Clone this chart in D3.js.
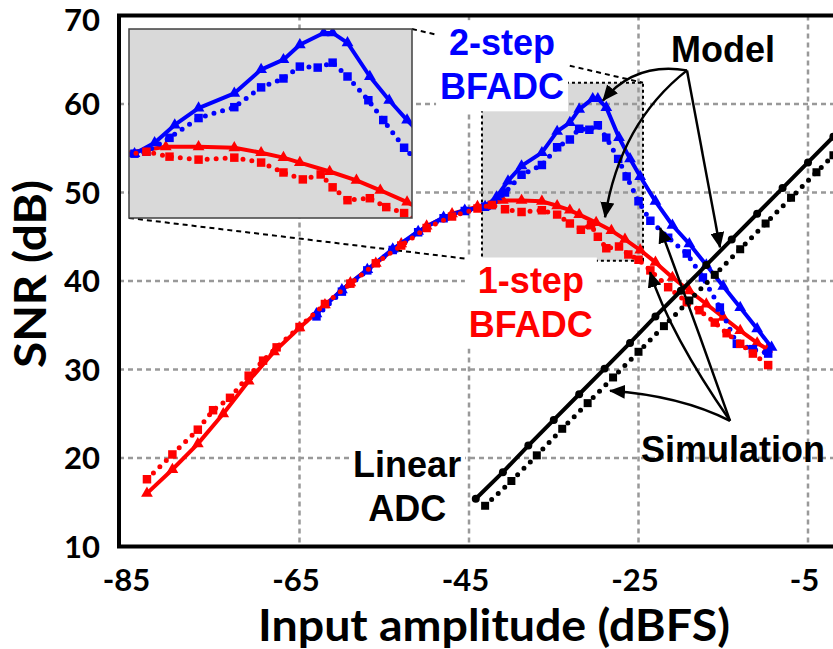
<!DOCTYPE html>
<html>
<head>
<meta charset="utf-8">
<script src="https://cdn.jsdelivr.net/npm/d3@7"></script>
<style>
  body { margin: 0; background: #fff; }
  svg { display: block; }
</style>
</head>
<body>
<div id="chart"></div>
<script>
// tick values
var xTicks = [-85, -65, -45, -25, -5];
var yTicks = [10, 20, 30, 40, 50, 60, 70];

// 1-step BFADC (model = solid, simulation = dotted)
var redModel = [[-83,16.0],[-80,18.7],[-77,21.6],[-74,25.0],[-71,28.7],[-68,32.0],[-65,34.7],[-62,37.3],[-59,39.8],[-56,42.0],[-53,44.2],[-50,46.2],[-47,47.6],[-44,48.4],[-41,49.1],[-38.8,49.1],[-36.4,49.0],[-34.6,48.5],[-33.1,48.0],[-32,47.5],[-30,46.6],[-28.2,45.7],[-26.6,44.7],[-24.8,43.5],[-23,42.1],[-21,40.4],[-19,38.9],[-17,37.4],[-15,35.9],[-13,34.4],[-11,33.0],[-9.8,32.3]];
var redSim = [[-83,17.6],[-80,20.4],[-77,23.2],[-75.2,25.4],[-73.2,26.8],[-71,29.3],[-69.3,31.0],[-67.7,32.5],[-65,34.8],[-62,37.4],[-59,39.7],[-56,42.0],[-53,44.0],[-50,46.0],[-47,47.3],[-44,48.2],[-42.3,48.6],[-40.75,48.1],[-38.8,47.8],[-36.4,48.0],[-34.6,47.5],[-33.1,46.5],[-31.8,45.8],[-30.6,46.3],[-29.8,45.0],[-28.8,43.7],[-27.3,43.9],[-26.2,43.0],[-25,42.4],[-23.6,41.2],[-21.5,39.3],[-19.3,37.6],[-17.8,36.7],[-16,35.3],[-14.6,34.1],[-13,32.9],[-11.5,31.8],[-9.7,30.5]];

// 2-step BFADC
var blueModel = [[-63,36.3],[-60,39.0],[-57,41.3],[-54,43.6],[-51,45.6],[-48,47.2],[-45.5,48.0],[-43.1,48.4],[-41.75,49.5],[-40.4,51.3],[-38.8,53.0],[-36.4,54.5],[-34.6,56.9],[-33.1,57.9],[-32,59.4],[-30.4,60.6],[-29.8,60.6],[-28.8,59.6],[-27.3,56.2],[-26,53.8],[-24.8,51.8],[-23,49.0],[-21,46.3],[-19,44.2],[-17,41.8],[-15,39.4],[-13,37.0],[-11,34.6],[-9.3,32.5]];
var blueSim = [[-63,36.0],[-60,38.8],[-57,41.2],[-54,43.5],[-51,45.5],[-48,47.1],[-45.5,47.9],[-43.1,48.4],[-42.3,48.6],[-40.75,50.0],[-38.8,52.0],[-36.4,53.1],[-34.6,55.1],[-33.1,56.0],[-32,57.2],[-30.8,57.1],[-29.8,57.6],[-28.8,56.2],[-27.4,53.8],[-26.4,51.8],[-25,49.0],[-23.6,46.8],[-21.5,44.9],[-19.3,43.1],[-17.4,40.4],[-15.4,37.0],[-13.4,32.9],[-11.5,32.3],[-9.7,31.8]];

// linear ADC
var linModel = [[-44.2,15.4],[-41,18.4],[-38,21.4],[-35,24.3],[-32,27.2],[-29,30.1],[-26,33.0],[-23,36.0],[-20,38.9],[-17,41.8],[-14,44.7],[-11,47.6],[-8,50.5],[-5,53.4],[-2,56.3]];
var linSim = [[-43.1,14.6],[-40,17.4],[-37,20.3],[-34,23.3],[-31,26.2],[-28,29.1],[-25,32.0],[-22,34.9],[-19,37.8],[-16,40.7],[-13,43.6],[-10,46.5],[-7,49.4],[-4,52.3],[-2,54.2]];

// window that the inset magnifies
var zoomX = [-43.47, -24.47];
var zoomY = [42.3, 62.4];
var insetY = [41.9, 61.0];

// annotations, anchored in data units
var labels = [
  {lines: ["2-step", "BFADC"], at: [-41.1, 65.5], color: "#0000ff", box: true},
  {lines: ["1-step", "BFADC"], at: [-37.7, 38.7], color: "#ff0000", box: true},
  {lines: ["Linear", "ADC"], at: [-52.3, 17.8], color: "#000", box: true},
  {lines: ["Model"], at: [-15.03, 64.7], color: "#000", box: false},
  {lines: ["Simulation"], at: [-13.85, 19.5], color: "#000", box: false}
];
var arrows = [
  {from: [-19.28, 63.8], ctrl: [-25.4, 64.8], to: [-29.19, 60.4]},
  {from: [-19.28, 63.8], ctrl: [-27.2, 57.85], to: [-28.95, 47.2]},
  {from: [-19.28, 63.8], ctrl: [-17.33, 53.8], to: [-15.38, 43.8]},
  {from: [-14.2, 24.2], ctrl: [-18.3, 35.3], to: [-22.46, 46.0]},
  {from: [-14.2, 24.2], ctrl: [-21.3, 34.0], to: [-23.64, 41.0]},
  {from: [-14.2, 24.2], ctrl: [-20.1, 27.06], to: [-28.36, 27.6]}
];

var width = 833, height = 649;
var tickFont = "Lato, 'Open Sans', sans-serif";
var noteFont = "'Liberation Sans', Arial, sans-serif";

var svg = d3.select("#chart").append("svg")
  .attr("width", width)
  .attr("height", height);

var x = d3.scaleLinear().domain([-86.3, -5]).range([119, 808]);
var y = d3.scaleLinear().domain([10, 70]).range([546.5, 15.5]);
var plotLeft = x.range()[0], plotRight = x(-1);

var defs = svg.append("defs");
defs.append("clipPath").attr("id", "plotClip")
  .append("rect")
  .attr("x", plotLeft).attr("y", y(70))
  .attr("width", plotRight - plotLeft).attr("height", y(10) - y(70));

defs.append("marker")
  .attr("id", "head")
  .attr("viewBox", "0 0 16 14")
  .attr("markerUnits", "userSpaceOnUse")
  .attr("markerWidth", 16).attr("markerHeight", 14)
  .attr("refX", 15).attr("refY", 7)
  .attr("orient", "auto")
  .append("path").attr("d", "M0,0 L16,7 L0,14 z").attr("fill", "#000");

// grey highlight of the magnified window
svg.append("rect")
  .attr("x", x(zoomX[0])).attr("y", y(zoomY[1]))
  .attr("width", x(zoomX[1]) - x(zoomX[0]))
  .attr("height", y(zoomY[0]) - y(zoomY[1]))
  .attr("fill", "#d9d9d9");

// gridlines
svg.selectAll(".hgrid")
  .data(yTicks.filter(d => d > 10 && d < 70))
  .enter().append("line")
  .attr("x1", plotLeft).attr("x2", plotRight)
  .attr("y1", d => y(d)).attr("y2", d => y(d))
  .attr("stroke", "#999").attr("stroke-width", 2.5)
  .attr("stroke-dasharray", "5 4");
svg.selectAll(".vgrid")
  .data(xTicks.filter(d => d > -85))
  .enter().append("line")
  .attr("x1", d => x(d)).attr("x2", d => x(d))
  .attr("y1", y(70)).attr("y2", y(10))
  .attr("stroke", "#999").attr("stroke-width", 2.5)
  .attr("stroke-dasharray", "5 4");

svg.append("rect")
  .attr("x", x(zoomX[0])).attr("y", y(zoomY[1]))
  .attr("width", x(zoomX[1]) - x(zoomX[0]))
  .attr("height", y(zoomY[0]) - y(zoomY[1]))
  .attr("fill", "none").attr("stroke", "#000")
  .attr("stroke-width", 2).attr("stroke-dasharray", "3 3");

// inset box
var inset = {left: 129, top: 29, right: 412, bottom: 218};
var xIn = d3.scaleLinear().domain(zoomX).range([inset.left, inset.right]);
var yIn = d3.scaleLinear().domain(insetY).range([inset.bottom, inset.top]);

// connectors between inset and window
svg.append("line")
  .attr("x1", inset.right).attr("y1", inset.top)
  .attr("x2", x(zoomX[1])).attr("y2", y(zoomY[1]))
  .attr("stroke", "#000").attr("stroke-width", 2).attr("stroke-dasharray", "5 4");
svg.append("line")
  .attr("x1", inset.left).attr("y1", inset.bottom)
  .attr("x2", x(zoomX[0])).attr("y2", y(zoomY[0]))
  .attr("stroke", "#000").attr("stroke-width", 2).attr("stroke-dasharray", "5 4");

var series = [
  {data: redModel, color: "#ff0000", dotted: false, symbol: d3.symbolTriangle, size: 60},
  {data: blueModel, color: "#0000ff", dotted: false, symbol: d3.symbolTriangle, size: 60},
  {data: blueSim, color: "#0000ff", dotted: true, symbol: d3.symbolSquare, size: 72},
  {data: redSim, color: "#ff0000", dotted: true, symbol: d3.symbolSquare, size: 72},
  {data: linModel, color: "#000", dotted: false, symbol: d3.symbolCircle, size: 50},
  {data: linSim, color: "#000", dotted: true, symbol: d3.symbolSquare, size: 64}
];

function drawSeries(g, sx, sy, s) {
  var line = d3.line().x(d => sx(d[0])).y(d => sy(d[1]));
  g.append("path")
    .datum(s.data)
    .attr("d", line)
    .attr("fill", "none")
    .attr("stroke", s.color)
    .attr("stroke-width", s.dotted ? 5 : 4)
    .attr("stroke-dasharray", s.dotted ? "0 9" : null)
    .attr("stroke-linecap", s.dotted ? "round" : "butt")
    .attr("stroke-linejoin", "round");
  g.selectAll(null)
    .data(s.data)
    .enter().append("path")
    .attr("transform", d => "translate(" + sx(d[0]) + "," + sy(d[1]) + ")")
    .attr("d", d3.symbol().type(s.symbol).size(s.size))
    .attr("fill", s.color);
}

var plotG = svg.append("g").attr("clip-path", "url(#plotClip)");
series.forEach(s => drawSeries(plotG, x, y, s));

// frame: left, bottom and top edges (right edge is cropped)
svg.append("path")
  .attr("d", "M" + plotRight + "," + y(70) + "H" + plotLeft + "V" + y(10) + "H" + plotRight)
  .attr("fill", "none").attr("stroke", "#000").attr("stroke-width", 4);

// inset contents
defs.append("clipPath").attr("id", "insetClip")
  .append("rect")
  .attr("x", inset.left).attr("y", inset.top)
  .attr("width", inset.right - inset.left).attr("height", inset.bottom - inset.top);
svg.append("rect")
  .attr("x", inset.left).attr("y", inset.top)
  .attr("width", inset.right - inset.left).attr("height", inset.bottom - inset.top)
  .attr("fill", "#d9d9d9");
var insetG = svg.append("g").attr("clip-path", "url(#insetClip)");
series.slice(0, 4).forEach(s => drawSeries(insetG, xIn, yIn, s));
svg.append("rect")
  .attr("x", inset.left).attr("y", inset.top)
  .attr("width", inset.right - inset.left).attr("height", inset.bottom - inset.top)
  .attr("fill", "none").attr("stroke", "#404040").attr("stroke-width", 1.5);

// tick labels
var axisB = svg.append("g")
  .attr("transform", "translate(-4," + y(10) + ")")
  .call(d3.axisBottom(x).tickValues(xTicks).tickSize(0).tickPadding(22).tickFormat(d => String(d)));
var axisL = svg.append("g")
  .attr("transform", "translate(" + plotLeft + ",1)")
  .call(d3.axisLeft(y).tickValues(yTicks).tickSize(0).tickPadding(19).tickFormat(d => String(d)));
[axisB, axisL].forEach(a => {
  a.select(".domain").remove();
  a.selectAll("text")
    .attr("fill", "#000")
    .style("font-family", tickFont)
    .style("font-weight", 700)
    .style("font-size", "31px");
});
// top label sits a little lower, below the frame
axisL.selectAll(".tick").filter(d => d === 70).select("text").attr("y", 4);

// axis titles
svg.append("text")
  .attr("x", 494).attr("y", 641)
  .attr("text-anchor", "middle")
  .attr("textLength", 472).attr("lengthAdjust", "spacingAndGlyphs")
  .style("font-family", tickFont).style("font-weight", 700).style("font-size", "44px")
  .text("Input amplitude (dBFS)");
svg.append("text")
  .attr("transform", "translate(46,274) rotate(-90)")
  .attr("text-anchor", "middle")
  .attr("textLength", 188).attr("lengthAdjust", "spacingAndGlyphs")
  .style("font-family", tickFont).style("font-weight", 700).style("font-size", "44px")
  .text("SNR (dB)");

// annotation labels
labels.forEach(l => {
  var g = svg.append("g");
  var t = g.append("text")
    .attr("text-anchor", "middle")
    .attr("fill", l.color)
    .style("font-family", noteFont).style("font-weight", 700).style("font-size", "36px");
  l.lines.forEach((s, i) => {
    t.append("tspan")
      .attr("x", x(l.at[0]))
      .attr("y", y(l.at[1]) + i * 44)
      .text(s);
  });
  if (l.box) {
    var bb = t.node().getBBox();
    g.insert("rect", "text")
      .attr("x", bb.x - 4).attr("y", bb.y - 2)
      .attr("width", bb.width + 8).attr("height", bb.height + 6)
      .attr("fill", "#fff");
  }
});

// arrows
svg.selectAll(".arrow")
  .data(arrows)
  .enter().append("path")
  .attr("d", a => "M" + x(a.from[0]) + "," + y(a.from[1]) +
    "Q" + x(a.ctrl[0]) + "," + y(a.ctrl[1]) + " " + x(a.to[0]) + "," + y(a.to[1]))
  .attr("fill", "none")
  .attr("stroke", "#000")
  .attr("stroke-width", 2.5)
  .attr("marker-end", "url(#head)");
</script>
</body>
</html>
